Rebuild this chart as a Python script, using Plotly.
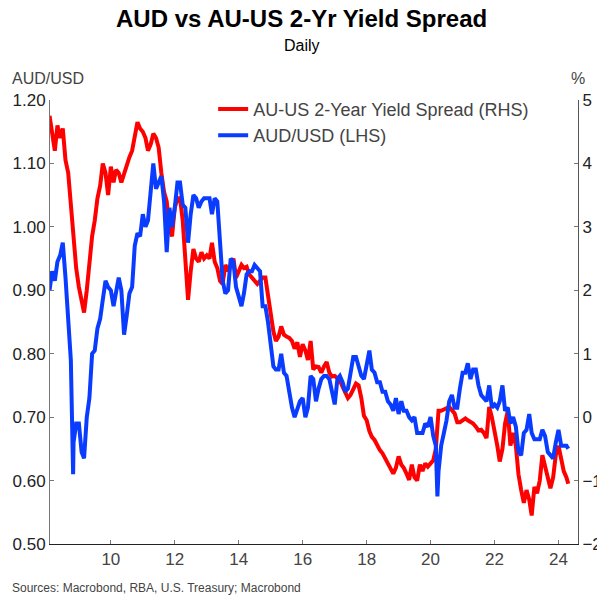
import pandas as pd
import plotly.graph_objects as go

# ---- Data (monthly readings, month-start dates, Feb 2008 - Apr 2024) ----
start_month = "2008-02-01"
end_month = "2024-04-01"

aud_usd = (
    [0.90, 0.93, 0.915, 0.945, 0.955, 0.975, 0.92, 0.85, 0.79, 0.66, 0.69]  # 2008 Feb-Dec
    + [0.69, 0.645, 0.635, 0.70, 0.73, 0.80, 0.805, 0.84, 0.855, 0.885, 0.915, 0.905]  # 2009
    + [0.90, 0.875, 0.895, 0.92, 0.90, 0.83, 0.86, 0.895, 0.905, 0.97, 0.99, 0.985]  # 2010
    + [1.02, 1.00, 1.01, 1.06, 1.10, 1.06, 1.07, 1.08, 1.04, 0.96, 1.03, 1.00]  # 2011
    + [1.03, 1.07, 1.07, 1.035, 1.03, 0.975, 1.02, 1.05, 1.045, 1.03, 1.04, 1.045]  # 2012
    + [1.045, 1.045, 1.02, 1.045, 1.04, 0.965, 0.915, 0.895, 0.90, 0.95, 0.945, 0.905]  # 2013
    + [0.89, 0.875, 0.895, 0.925, 0.93, 0.93, 0.94, 0.935, 0.93, 0.875, 0.875, 0.85]  # 2014
    + [0.815, 0.78, 0.775, 0.775, 0.80, 0.77, 0.765, 0.735, 0.715, 0.70, 0.715, 0.725]  # 2015
    + [0.73, 0.70, 0.715, 0.765, 0.76, 0.725, 0.745, 0.76, 0.765, 0.765, 0.76, 0.74]  # 2016
    + [0.72, 0.76, 0.765, 0.755, 0.74, 0.745, 0.77, 0.795, 0.795, 0.78, 0.765, 0.76]  # 2017
    + [0.78, 0.805, 0.775, 0.77, 0.755, 0.755, 0.74, 0.74, 0.725, 0.72, 0.71, 0.73]  # 2018
    + [0.705, 0.725, 0.71, 0.71, 0.70, 0.695, 0.70, 0.675, 0.675, 0.675, 0.69, 0.685]  # 2019
    + [0.70, 0.67, 0.655, 0.615, 0.655, 0.675, 0.695, 0.725, 0.735, 0.715, 0.715, 0.745]  # 2020
    + [0.77, 0.77, 0.785, 0.76, 0.775, 0.775, 0.75, 0.735, 0.73, 0.725, 0.75, 0.715]  # 2021
    + [0.72, 0.715, 0.725, 0.75, 0.71, 0.715, 0.69, 0.70, 0.685, 0.645, 0.64, 0.675]  # 2022
    + [0.68, 0.705, 0.675, 0.665, 0.665, 0.665, 0.68, 0.67, 0.645, 0.64, 0.635, 0.66]  # 2023
    + [0.68, 0.655, 0.655, 0.655]  # 2024 Jan-Apr
)

spread = (
    [4.75, 4.45, 4.2, 4.6, 4.4, 4.55, 4.05, 3.85, 3.3, 2.75, 2.35]  # 2008 Feb-Dec
    + [2.05, 1.8, 1.65, 2.0, 2.45, 2.85, 3.1, 3.45, 3.65, 4.0, 3.85, 3.5]  # 2009
    + [3.95, 3.7, 3.9, 3.85, 3.7, 3.85, 4.0, 4.1, 4.2, 4.45, 4.65, 4.55]  # 2010
    + [4.5, 4.4, 4.2, 4.3, 4.47, 4.4, 4.25, 3.85, 3.55, 3.4, 3.0, 2.85]  # 2011
    + [3.3, 3.45, 3.45, 3.1, 2.4, 1.85, 2.3, 2.65, 2.5, 2.45, 2.6, 2.5]  # 2012
    + [2.55, 2.5, 2.75, 2.45, 2.35, 2.15, 2.1, 2.4, 2.3, 2.4, 2.5, 2.2]  # 2013
    + [2.3, 2.4, 2.35, 2.37, 2.25, 2.2, 2.15, 2.1, 2.15, 2.2, 2.2, 1.9]  # 2014
    + [1.6, 1.35, 1.2, 1.27, 1.43, 1.3, 1.27, 1.25, 1.2, 1.08, 1.18, 0.95]  # 2015
    + [1.15, 1.05, 0.9, 1.2, 0.75, 0.8, 0.79, 0.7, 0.8, 0.87, 0.7, 0.64]  # 2016
    + [0.65, 0.62, 0.58, 0.48, 0.4, 0.3, 0.35, 0.43, 0.53, 0.5, 0.3, 0.02]  # 2017
    + [-0.05, -0.22, -0.31, -0.36, -0.45, -0.52, -0.57, -0.65, -0.72, -0.8, -0.89, -0.8]  # 2018
    + [-0.62, -0.75, -0.8, -0.89, -0.99, -0.75, -0.95, -1.0, -0.75, -0.85, -0.73, -0.78]  # 2019
    + [-0.72, -0.68, -0.5, 0.1, 0.1, 0.13, 0.14, 0.16, 0.12, 0.06, -0.08, -0.08]  # 2020
    + [-0.05, -0.02, -0.05, -0.07, -0.1, -0.15, -0.21, -0.2, -0.25, -0.33, 0.16, 0.0]  # 2021
    + [-0.2, -0.45, -0.7, -0.5, -0.1, 0.1, -0.45, -0.25, -0.45, -0.9, -1.15, -1.35]  # 2022
    + [-1.15, -1.3, -1.55, -1.1, -1.2, -1.0, -0.6, -0.8, -1.0, -1.12, -0.95, -0.6]  # 2023
    + [-0.45, -0.65, -0.85, -0.95]  # 2024 Jan-Apr
)

# a few extra intra-month readings (spikes)
extra_dates = ["2008-10-27", "2020-03-19", "2024-04-22"]
extra_aud = [0.61, 0.575, 0.65]
extra_spread = [2.9, 0.05, -1.05]

left_ticks = [0.50, 0.60, 0.70, 0.80, 0.90, 1.00, 1.10, 1.20]
right_ticks = [-2, -1, 0, 1, 2, 3, 4, 5]

# ---- Assemble ----
dates = pd.date_range(start_month, end_month, freq="MS")
df = pd.DataFrame({"date": dates, "aud": aud_usd, "spread": spread})
df = pd.concat([df, pd.DataFrame({"date": pd.to_datetime(extra_dates),
                                  "aud": extra_aud, "spread": extra_spread})])
df = df.sort_values("date")

FONT = "Arial, Liberation Sans, sans-serif"
RED = "#ff0000"
BLUE = "#0a3cff"

fig = go.Figure()
fig.add_trace(go.Scatter(x=df["date"], y=df["spread"], name="AU-US 2-Year Yield Spread (RHS)",
                         mode="lines", line=dict(color=RED, width=4), yaxis="y"))
fig.add_trace(go.Scatter(x=df["date"], y=df["aud"], name="AUD/USD (LHS)",
                         mode="lines", line=dict(color=BLUE, width=4), yaxis="y2"))

tickfont = dict(family=FONT, size=17, color="#222")
fig.update_layout(
    width=597, height=596,
    margin=dict(l=50, r=19, t=100, b=52, autoexpand=False),
    paper_bgcolor="white", plot_bgcolor="white",
    font=dict(family=FONT, color="#333"),
    showlegend=True,
    legend=dict(x=0.309, y=1.021, xanchor="left", yanchor="top",
                font=dict(family=FONT, size=18, color="#444"),
                bgcolor="rgba(0,0,0,0)", tracegroupgap=0),
    xaxis=dict(type="date", range=["2008-02-06", "2024-08-11"],
               tick0="2010-01-01", dtick="M24", tickformat="%y",
               ticks="inside", ticklen=4, tickcolor="#777",
               showline=True, linecolor="#222", linewidth=1,
               showgrid=False, zeroline=False, automargin=False,
               tickfont=dict(family=FONT, size=17, color="#444")),
    yaxis=dict(side="right", range=[-2, 5], tickvals=right_ticks,
               ticks="inside", ticklen=4, tickcolor="#777",
               showline=True, linecolor="#555", linewidth=1,
               showgrid=False, zeroline=False, automargin=False, tickfont=tickfont),
    yaxis2=dict(side="left", overlaying="y", range=[0.5, 1.2], tickvals=left_ticks,
                tickformat=".2f",
                ticks="inside", ticklen=4, tickcolor="#777",
                showline=True, linecolor="#777", linewidth=1,
                showgrid=False, zeroline=False, automargin=False, tickfont=tickfont),
    annotations=[
        dict(text="<b>AUD vs AU-US 2-Yr Yield Spread</b>", xref="paper", yref="paper",
             x=0.477, y=(544 - 18) / 444, xanchor="center", yanchor="middle",
             showarrow=False, font=dict(family=FONT, size=24, color="#000")),
        dict(text="Daily", xref="paper", yref="paper",
             x=0.477, y=(544 - 45) / 444, xanchor="center", yanchor="middle",
             showarrow=False, font=dict(family=FONT, size=16, color="#000")),
        dict(text="AUD/USD", xref="paper", yref="paper",
             x=(10 - 50) / 528, y=(544 - 79) / 444, xanchor="left", yanchor="middle",
             showarrow=False, font=dict(family=FONT, size=16, color="#444")),
        dict(text="%", xref="paper", yref="paper",
             x=(578 - 50) / 528, y=(544 - 78) / 444, xanchor="center", yanchor="middle",
             showarrow=False, font=dict(family=FONT, size=16, color="#444")),
        dict(text="Sources: Macrobond, RBA, U.S. Treasury; Macrobond", xref="paper", yref="paper",
             x=(10 - 50) / 528, y=(544 - 588) / 444, xanchor="left", yanchor="middle",
             showarrow=False, font=dict(family=FONT, size=12, color="#444")),
    ],
)

fig.write_html("out.html", config={"displayModeBar": False},
               post_script="document.body.style.margin='0';")
